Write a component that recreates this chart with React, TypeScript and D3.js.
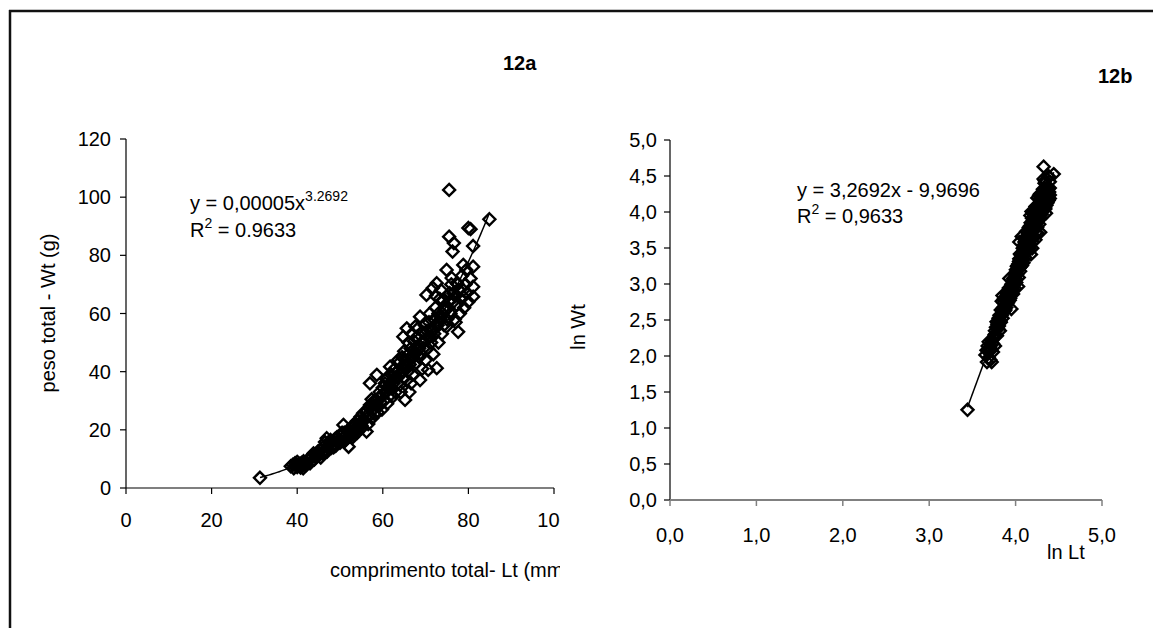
import React from 'react';
import * as d3 from 'd3';

// comprimento total (mm) and peso total (g)
const lengthMm = [
  31.3,
  38.5, 39, 39.2, 39.5, 40, 40, 40.3, 40.8, 41, 41.4, 41.5, 42, 42, 39.8, 40.6,
  42.5, 43, 43, 43.5, 43.8, 44, 44.5, 44.8, 45, 45.3, 45.5, 45.8, 46, 46, 42.8, 44.2,
  46.5, 46.9, 47, 47.3, 47.5, 48, 48, 48.4, 48.8, 49, 49.3, 49.5, 50, 50, 47.8, 46.5,
  50.5, 50.8, 51, 51.3, 51.5, 52, 52, 52.4, 52.8, 53, 53.1, 53.5, 54, 54, 54.5, 54.8, 55, 55, 51.8, 53.8,
  55.4, 55.5, 56, 56.2, 56.3, 56.6, 57, 57, 57.3, 57.5, 57.8, 58, 58, 58.3, 58.6, 58.8, 59, 59, 59.3, 59.5, 59.8, 60, 60, 57.4, 56.8,
  60.3, 60.5, 60.8, 61, 61, 61.3, 61.7, 61.8, 62, 62, 62.3, 62.6, 62.8, 63, 63, 63.3, 63.5, 63.8, 64, 64, 64.3, 64.5, 64.8, 64.8, 65, 65, 60.8, 62.4, 63.6, 64.2,
  65.2, 65.3, 65.6, 65.8, 66, 66, 66.3, 66.5, 66.8, 67, 67, 67.3, 67.5, 67.8, 68, 68, 68.3, 68.5, 68.7, 68.7, 69, 69, 69.3, 69.5, 69.8, 70, 70, 66.6, 67.6, 69.2, 65.5, 66.2,
  70.2, 70.3, 70.5, 70.6, 70.8, 71, 71, 71.3, 71.5, 71.7, 72, 72, 72.3, 72.6, 72.6, 72.8, 73, 73, 73.3, 73.5, 73.8, 74, 74, 74.3, 74.5, 74.9, 74.9, 75, 75, 71.8, 73.6, 72.4,
  75.5, 75.5, 75.3, 75.6, 75.8, 76, 76.1, 76.3, 76.6, 76.5, 76.8, 77, 77.3, 77.3, 77.6, 77.8, 78, 78.3, 78.8, 78.8, 78.8, 79, 79.3, 79.6, 80, 77,
  80, 80.5, 80.5, 81.1, 81.1, 81.1, 81.1, 84.9,
  41, 43, 45, 47, 48.5, 50.5, 51, 52, 53, 54, 55, 56, 57, 58.5, 59.5, 60.5, 61.5, 62.5, 63.5, 64.5,
  65.5, 66.5, 67.5, 68.5, 69.5, 70.5, 71.5, 72.5, 73.5, 74.5, 75.5, 76.5, 77.5, 78.5, 79.5,
];
const weightG = [
  3.5,
  7.5, 8, 6.8, 8.5, 7.2, 9, 8, 7, 8.6, 6.8, 9.2, 7.8, 8.8, 7.9, 8.3,
  9.5, 10.5, 8.5, 11, 11.9, 9.8, 10.8, 12.5, 11.2, 13, 10.5, 12, 14, 11.8, 9.9, 11.5,
  13, 17.1, 12.5, 14.5, 15.5, 13.8, 16, 15, 16.8, 14.5, 17.5, 16, 15.5, 18, 16.5, 15.8,
  17, 21.7, 19, 16.5, 18.2, 14.2, 20, 18.8, 21, 17.5, 21.7, 20.5, 19, 23, 21.5, 24.5, 20.5, 22.8, 19.5, 22,
  25.7, 23, 24.5, 19.4, 26.5, 22, 36, 25, 28, 24, 27, 30, 25.5, 28.5, 38.9, 26, 31, 28, 33, 29.5, 27, 32, 34.5, 30.5, 27.5,
  30, 36, 33, 29, 38, 35, 41.7, 32, 36.5, 39, 34, 37.5, 41, 33, 38, 40, 36, 43, 39, 35.5, 41.5, 45, 38, 52, 42, 47, 37.5, 31.5, 44, 33,
  30.3, 44, 54.9, 40, 46, 50, 42.5, 48, 53, 45, 39, 50.5, 47, 43, 52, 48.5, 55, 45, 37.1, 58.9, 50, 46, 53.5, 48, 56, 51, 44, 36, 55.5, 41, 37, 33,
  66.4, 54, 48, 40.6, 57, 52, 60, 50, 55, 68.8, 58, 53, 62, 70.4, 41.2, 56, 60, 50, 65, 58, 53, 64.6, 60, 56, 62, 75, 55.5, 58, 66, 46, 68, 66,
  102.5, 86.4, 62, 67, 60, 70, 72.2, 81.3, 84.2, 64, 58, 66, 70.5, 62.9, 53.7, 68, 60, 65, 68, 65.8, 76.7, 62, 70, 67, 64, 57,
  89.4, 89, 72, 65.8, 69.2, 76.1, 83.2, 92.4,
  8, 10, 12, 14, 14, 19, 16, 17.5, 18.5, 20, 21.5, 26, 28.5, 30, 31.5, 33, 34, 36, 38, 40,
  42, 44, 46, 48, 50, 52, 54, 56, 59, 61, 64, 67, 70, 73, 75,
];

// trend lines printed on the figure
const powerA = 0.0000467; // shown as 0,00005 (exp(-9,9696))
const powerB = 3.2692;
const linSlope = 3.2692;
const linIntercept = -9.9696;

const xTicksA = [0, 20, 40, 60, 80, 100];
const yTicksA = [0, 20, 40, 60, 80, 100, 120];
const xTicksB = [0, 1, 2, 3, 4, 5];
const yTicksB = [0, 0.5, 1, 1.5, 2, 2.5, 3, 3.5, 4, 4.5, 5];

const FONT = "'Liberation Sans', Arial, sans-serif";
const FS = 20;

export default function App() {
  const pts = lengthMm.map((l, i) => ({ x: l, y: weightG[i] }));
  const ptsB = pts.map((p) => ({ x: Math.log(p.x), y: Math.log(p.y) }));
  const [minL, maxL] = d3.extent(lengthMm) as [number, number];

  const xa = d3.scaleLinear().domain([0, 100]).range([126, 554]);
  const ya = d3.scaleLinear().domain([0, 120]).range([488, 139]);
  const xb = d3.scaleLinear().domain([0, 5]).range([670, 1102]);
  const yb = d3.scaleLinear().domain([0, 5]).range([500, 140]);

  const trendA = d3.range(minL, maxL + 0.01, 0.5).map((l) => ({ x: l, y: powerA * Math.pow(l, powerB) }));
  const lx0 = Math.log(minL);
  const lx1 = Math.log(maxL);
  const trendB = [lx0, lx1].map((v) => ({ x: v, y: linSlope * v + linIntercept }));

  const lineA = d3.line<{ x: number; y: number }>().x((d) => xa(d.x)).y((d) => ya(d.y));
  const lineB = d3.line<{ x: number; y: number }>().x((d) => xb(d.x)).y((d) => yb(d.y));

  const r = 6;
  const diamond = (cx: number, cy: number) =>
    `M${cx},${cy - r}L${cx + r},${cy}L${cx},${cy + r}L${cx - r},${cy}Z`;
  const fmt1 = (v: number) => v.toFixed(1).replace('.', ',');

  return (
    <svg
      width={1153}
      height={628}
      style={{ position: 'absolute', left: 0, top: 0, background: '#fff' }}
      fontFamily={FONT}
    >
      <defs>
        <clipPath id="clipA">
          <rect x={0} y={0} width={560} height={628} />
        </clipPath>
      </defs>
      <rect x={0} y={0} width={1153} height={628} fill="#fff" />
      {/* outer frame */}
      <line x1={9} y1={11} x2={1153} y2={11} stroke="#111" strokeWidth={2.5} />
      <line x1={10} y1={10} x2={10} y2={628} stroke="#111" strokeWidth={2.5} />

      {/* panel labels */}
      <text x={503} y={70} fontSize={FS} fontWeight="bold">12a</text>
      <text x={1098} y={83} fontSize={FS} fontWeight="bold">12b</text>

      {/* ---------- chart 12a ---------- */}
      <g clipPath="url(#clipA)">
        <line x1={xa(0)} y1={ya(0)} x2={xa(100)} y2={ya(0)} stroke="#000" strokeWidth={1.2} />
        <line x1={xa(0)} y1={ya(0)} x2={xa(0)} y2={ya(120)} stroke="#000" strokeWidth={1.2} />
        {xTicksA.map((t) => (
          <g key={'xa' + t}>
            <line x1={xa(t)} x2={xa(t)} y1={ya(0)} y2={ya(0) + 6} stroke="#000" strokeWidth={1.2} />
            <text x={xa(t)} y={527} fontSize={FS} textAnchor="middle">{t}</text>
          </g>
        ))}
        {yTicksA.map((t) => (
          <g key={'ya' + t}>
            <line x1={xa(0) - 6} x2={xa(0)} y1={ya(t)} y2={ya(t)} stroke="#000" strokeWidth={1.2} />
            <text x={111} y={ya(t) + 7} fontSize={FS} textAnchor="end">{t}</text>
          </g>
        ))}
        <text x={330} y={577} fontSize={FS}>comprimento total- Lt (mm)</text>
        <text transform={`translate(55,313) rotate(-90)`} fontSize={FS} textAnchor="middle">
          peso total - Wt (g)
        </text>
        <path d={lineA(trendA) || ''} fill="none" stroke="#000" strokeWidth={1.5} />
        {pts.map((p, i) => (
          <path key={'pa' + i} d={diamond(xa(p.x), ya(p.y))} fill="none" stroke="#000" strokeWidth={2.4} />
        ))}
        <text x={190} y={210} fontSize={FS}>
          y = 0,00005x<tspan fontSize={14} dy={-9}>3.2692</tspan>
        </text>
        <text x={190} y={237} fontSize={FS}>
          R<tspan fontSize={14} dy={-9}>2</tspan><tspan dy={9}> = 0.9633</tspan>
        </text>
      </g>

      {/* ---------- chart 12b ---------- */}
      <line x1={xb(0)} y1={yb(0)} x2={xb(0)} y2={yb(5)} stroke="#000" strokeWidth={1.2} />
      {yTicksB.map((t) => (
        <g key={'yb' + t}>
          <line x1={xb(0) - 6} x2={xb(0)} y1={yb(t)} y2={yb(t)} stroke="#000" strokeWidth={1.2} />
          <text x={657} y={yb(t) + 7} fontSize={FS} textAnchor="end">{fmt1(t)}</text>
        </g>
      ))}
      <line x1={xb(0)} y1={yb(0)} x2={xb(5)} y2={yb(0)} stroke="#808080" strokeWidth={2} />
      {xTicksB.map((t) => (
        <g key={'xb' + t}>
          <line x1={xb(t)} x2={xb(t)} y1={yb(0)} y2={yb(0) + 6} stroke="#808080" strokeWidth={1.5} />
          <text x={xb(t)} y={542} fontSize={FS} textAnchor="middle">{fmt1(t)}</text>
        </g>
      ))}
      <text x={1047} y={559} fontSize={FS}>ln Lt</text>
      <text transform={`translate(585,327) rotate(-90)`} fontSize={FS} textAnchor="middle">ln Wt</text>
      <path d={lineB(trendB) || ''} fill="none" stroke="#000" strokeWidth={1.5} />
      {ptsB.map((p, i) => (
        <path key={'pb' + i} d={diamond(xb(p.x), yb(p.y))} fill="none" stroke="#000" strokeWidth={2.4} />
      ))}
      <text x={797} y={197} fontSize={FS}>y = 3,2692x - 9,9696</text>
      <text x={797} y={223} fontSize={FS}>
        R<tspan fontSize={14} dy={-9}>2</tspan><tspan dy={9}> = 0,9633</tspan>
      </text>
    </svg>
  );
}
